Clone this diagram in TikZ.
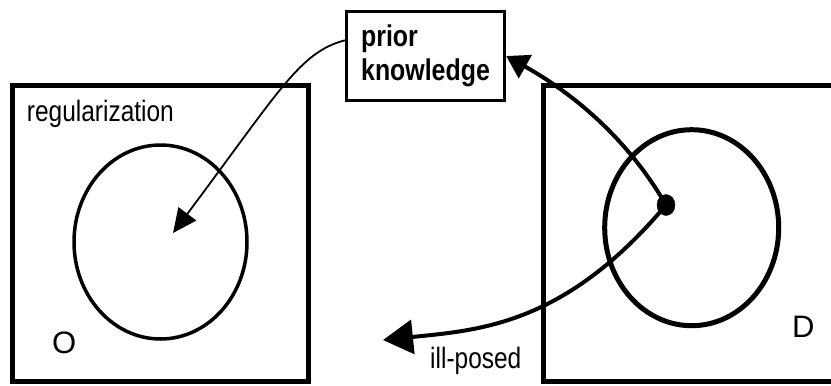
\documentclass[tikz,border=0pt]{standalone}
\usepackage{fontspec}
\setmainfont{Liberation Sans}
\newfontfamily\narrowsans[FakeStretch=0.83]{Liberation Sans}
\usetikzlibrary{arrows.meta,shapes.geometric}

\tikzset{
  frame/.style={draw,line width=5pt,line join=miter},
  domain/.style={draw,ellipse,inner sep=0pt,minimum width=#1},
  infobox/.style={draw,line width=2.8pt,rectangle,inner sep=0pt,
    minimum width=158.5pt,minimum height=89.5pt,align=left,
    font=\narrowsans\bfseries\fontsize{30}{34}\selectfont},
  label/.style={inner sep=0pt,anchor=base west,
    font=\narrowsans\fontsize{29.5}{34}\selectfont},
  letter/.style={inner sep=0pt,anchor=base west,
    font=\fontsize{31}{34}\selectfont},
  thickarrow/.style={line width=4pt,-{Triangle[length=#1,width=#1+4pt]}},
  thinarrow/.style={line width=1.8pt,-{Triangle[length=24pt,width=22pt]}},
}

\begin{document}
\begin{tikzpicture}[x=1pt,y=-1pt]
  \useasboundingbox (0,0) rectangle (831,386);

  % object space O
  \node[frame,rectangle,inner sep=0pt,minimum width=296.5pt,minimum height=296pt]
    (obox) at (160.25,233) {};
  \node[domain=173pt,minimum height=194pt,line width=3.5pt] (ocirc) at (160.5,242) {};
  \node[label] (reg) at (26.7,121) {regularization};
  \node[letter] (olab) at (52,353) {O};

  % data space D, running off the right edge
  \draw[line width=5pt,line join=miter] (831,85) -| (543.5,381.5) -- (831,381.5);
  \node[domain=174pt,minimum height=196pt,line width=5pt] (dcirc) at (691.7,227.7) {};
  \node[letter] (dlab) at (792,337) {D};
  \node[draw,fill,ellipse,inner sep=0pt,minimum width=18pt,minimum height=21pt]
    (dot) at (666,205) {};

  % prior knowledge
  \node[infobox] (pk) at (425.5,56) {prior\\knowledge};

  \coordinate (otarget) at (173,233);
  \coordinate (illend) at (383,340);

  % connectors
  \draw[thinarrow] (pk.169) .. controls (300,52) and (280,90) .. (otarget);
  \draw[thickarrow=22pt] (dot.center) .. controls (629,141) and (576,95) .. (pk.east);
  \draw[thickarrow=30pt] (dot.center) .. controls (565,325) and (480,330) .. (illend);
  \node[label] (ill) at (430,368.3) {ill-posed};
\end{tikzpicture}
\end{document}
